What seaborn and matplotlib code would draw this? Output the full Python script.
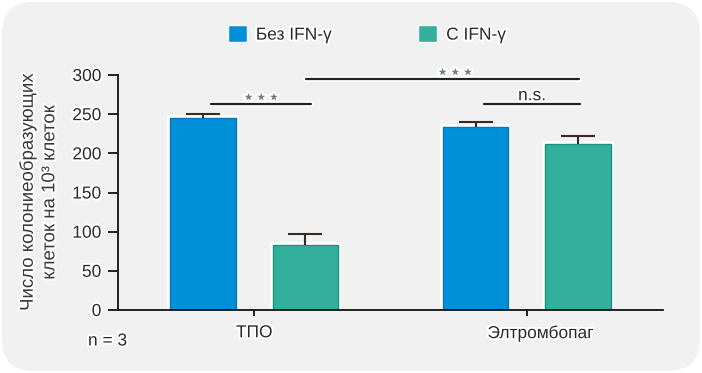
import numpy as np
import pandas as pd
import seaborn as sns
import matplotlib
matplotlib.use("Agg")
import matplotlib.pyplot as plt
from matplotlib.patches import FancyBboxPatch
import matplotlib.patheffects as pe
from matplotlib.transforms import ScaledTranslation

# ---- data ----
groups = ["ТПО", "Элтромбопаг"]
conditions = ["Без IFN-γ", "С IFN-γ"]
means_without = [245, 234]
means_with = [83, 212]
err_without = [5, 6]
err_with = [14, 10]
y_ticks = [0, 50, 100, 150, 200, 250, 300]

df = pd.DataFrame({
    "group": groups * 2,
    "cond": [conditions[0]] * 2 + [conditions[1]] * 2,
    "value": means_without + means_with,
})
errs = {conditions[0]: err_without, conditions[1]: err_with}

BLUE = "#0090d8"
GREEN = "#34af9b"
EDGE = {BLUE: "#0a74c0", GREEN: "#16947f"}
TXT = "#2b2b2b"
STAR = "#6f7c8c"
FS = 12.5
halo = [pe.withStroke(linewidth=3, foreground="white")]

sns.set_theme(style="ticks")
plt.rcParams["font.family"] = ["Liberation Sans", "DejaVu Sans"]

fig = plt.figure(figsize=(7.02, 3.73), dpi=100)
fig.patch.set_facecolor("white")
bg = FancyBboxPatch((0.02, 0.02), 6.98, 3.69,
                    boxstyle="round,pad=0,rounding_size=0.32",
                    transform=fig.dpi_scale_trans, facecolor="#f1f1f1",
                    edgecolor="none", zorder=-10)
fig.patches.append(bg)

ax = fig.add_axes([118 / 702, 63 / 373, 545 / 702, 235 / 373])
ax.set_facecolor("none")

sns.barplot(data=df, x="group", y="value", hue="cond", hue_order=conditions,
            order=groups, palette=[BLUE, GREEN], width=0.75, gap=0.36,
            errorbar=None, ax=ax, saturation=1, legend=True)

for container, cond in zip(ax.containers, conditions):
    for bar, e in zip(container, errs[cond]):
        fc = matplotlib.colors.to_hex(bar.get_facecolor())
        bar.set_edgecolor(EDGE.get(fc, "#333333"))
        bar.set_linewidth(1.0)
        bar.set_path_effects([pe.Stroke(linewidth=4, foreground="white"), pe.Normal()])
        xc = bar.get_x() + bar.get_width() / 2
        h = bar.get_height()
        _, caps, _ = ax.errorbar(xc, h, yerr=[[0], [e]], fmt="none", ecolor="#3a2b22",
                                 elinewidth=1.5, capsize=12, capthick=1.5, zorder=1)
        # keep only the upper cap
        if len(caps) == 2:
            caps[0].remove()

ax.set_xlim(-0.5, 1.5)
ax.set_ylim(0, 300)
ax.set_yticks(y_ticks)
ax.set_xlabel("")
ax.set_ylabel("Число колониеобразующих\nклеток на 10³ клеток", fontsize=13.4,
              color="#3a3a3a", labelpad=10, linespacing=1.35)
sns.despine(ax=ax)
ax.spines["left"].set_bounds(0, 300)
for s in ("left", "bottom"):
    ax.spines[s].set_linewidth(1.3)
    ax.spines[s].set_color("#111111")
ax.tick_params(axis="y", length=7, width=1.3, pad=5, labelsize=FS, colors="#111111", labelcolor=TXT)
ax.tick_params(axis="x", length=4, width=1.3, pad=7, labelsize=FS, colors="#111111", labelcolor=TXT)
for lab in ax.get_yticklabels() + ax.get_xticklabels():
    lab.set_path_effects(halo)
xl = ax.get_xticklabels()
xl[1].set_transform(xl[1].get_transform() + ScaledTranslation(14 / 100, 0, fig.dpi_scale_trans))
ax.yaxis.label.set_path_effects(halo)

# legend
handles, labels = ax.get_legend_handles_labels()
ax.legend_.remove()
leg = fig.legend(handles, labels, loc="center", bbox_to_anchor=(367 / 702, 1 - 34 / 373),
                 ncol=2, frameon=False, fontsize=FS, handlelength=1.1, handleheight=1.1,
                 handletextpad=0.5, columnspacing=5.0)
for t in leg.get_texts():
    t.set_color(TXT)
    t.set_path_effects(halo)

line_fx = [pe.Stroke(linewidth=4, foreground="white"), pe.Normal()]

def bracket(x1, x2, y, label, ty, size, color, family=None):
    ax.plot([x1, x2], [y, y], color="#222222", lw=1.6, clip_on=False,
            solid_capstyle="round", path_effects=line_fx)
    kw = {"family": family} if family else {}
    ax.text((x1 + x2) / 2, ty, label, ha="center", va="bottom", fontsize=size,
            color=color, clip_on=False, path_effects=halo, **kw)

bracket(-0.16, 0.21, 263, "★ ★ ★", 265, 7.5, STAR, "DejaVu Sans")
bracket(0.844, 1.196, 263, "n.s.", 264, FS, TXT)
ax.plot([0.19, 1.19], [295, 295], color="#222222", lw=1.6, clip_on=False,
        solid_capstyle="round", path_effects=line_fx)
ax.text(0.737, 297, "★ ★ ★", ha="center", va="bottom", fontsize=7.5, color=STAR,
        family="DejaVu Sans", clip_on=False, path_effects=halo)

fig.text(88 / 702, 1 - 341 / 373, "n = 3", ha="left", va="center", fontsize=FS,
         color=TXT, path_effects=halo)

fig.savefig("out.png", dpi=100, facecolor="white")
